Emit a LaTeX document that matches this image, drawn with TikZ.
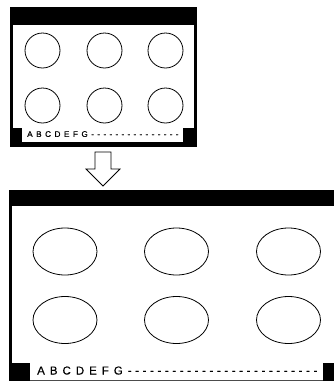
\documentclass[tikz,border=0pt]{standalone}
\usepackage{fontspec}
\usetikzlibrary{shapes.geometric}
\newfontfamily\labfont[FakeBold=0.3]{Liberation Sans}
\newlength\lskern
\def\spacedtext#1{\spacedA#1\relax}
\def\spacedA#1{\ifx#1\relax\else#1\kern\lskern\expandafter\spacedA\fi}
\begin{document}
\begin{tikzpicture}[x=1pt,y=-1pt,
  circ/.style={draw,circle,minimum size=35pt,inner sep=0pt,line width=0.8pt},
  ell/.style={draw,ellipse,minimum width=64pt,minimum height=47pt,inner sep=0pt,line width=0.8pt},
  lbl/.style={inner sep=0pt,anchor=base west}]
\useasboundingbox (0,0) rectangle (334,381);
% ---- top box ----
\fill[black] (10,7) rectangle (197,147);
\fill[white] (12.5,25) rectangle (194,128);
\fill[white] (22,128) rectangle (183,142);
\node[circ] (c11) at (42.5,50.5) {};
\node[circ] (c12) at (104.5,50.5) {};
\node[circ] (c13) at (165.5,50.5) {};
\node[circ] (c21) at (42.5,105.5) {};
\node[circ] (c22) at (104.5,105.5) {};
\node[circ] (c23) at (165.5,105.5) {};
\node[lbl,font=\labfont\fontsize{8.2}{9}\selectfont] (t1) at (27,136.9)
  {\setlength\lskern{3.5pt}\spacedtext{ABCDEFG}\setlength\lskern{3.3pt}\spacedtext{---------------}};
% ---- arrow ----
\draw[line width=0.8pt,fill=white,line join=miter]
  (95,152) -- (111,152) -- (111,169) -- (120,169) -- (103,186) -- (86,169) -- (95,169) -- cycle;
% ---- bottom box ----
\fill[black] (8.5,190) rectangle (334,381);
\fill[white] (11.5,206) rectangle (334,363);
\fill[white] (30,363) rectangle (323,381);
\fill[black!70] (30,379.6) rectangle (323,381);
\node[ell] (e11) at (65,251.5) {};
\node[ell] (e12) at (176.5,251.5) {};
\node[ell] (e13) at (288.5,251.5) {};
\node[ell] (e21) at (65,320) {};
\node[ell] (e22) at (176.5,320) {};
\node[ell] (e23) at (288.5,320) {};
\node[lbl,font=\labfont\fontsize{11.5}{12}\selectfont] (t2) at (37,374.5)
  {\setlength\lskern{5pt}\spacedtext{ABCDEFG}\setlength\lskern{3.6pt}\spacedtext{--------------------------}};
\end{tikzpicture}
\end{document}
